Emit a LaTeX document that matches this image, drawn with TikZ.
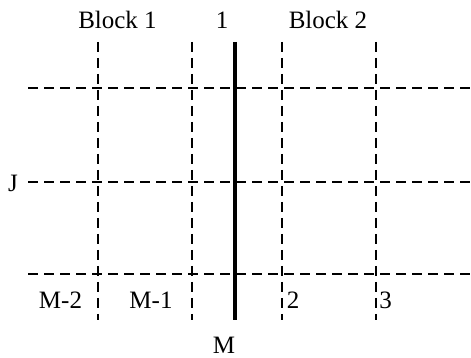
\documentclass[tikz,border=0pt]{standalone}
\usepackage{fontspec}
\setmainfont{Liberation Serif}
\begin{document}
\begin{tikzpicture}[x=1pt,y=1pt,
  lbl/.style={anchor=base,inner sep=0pt,font=\fontsize{25}{30}\selectfont},
  grid/.style={line width=2.4pt,dash pattern=on 10pt off 6pt},
  bound/.style={line width=3.4pt}]
\useasboundingbox (0,0) rectangle (471,358);
% horizontal dashed lines
\foreach \y/\n in {270/a,176/b,84/c}{
  \coordinate (h\n l) at (28,\y);
  \coordinate (h\n r) at (471,\y);
  \draw[grid] (h\n l) -- (h\n r);
}
% vertical dashed lines
\foreach \x/\n in {98/a,192/b,282/c,376/d}{
  \coordinate (v\n t) at (\x,316);
  \coordinate (v\n b) at (\x,38);
  \draw[grid] (v\n t) -- (v\n b);
}
% thick boundary
\coordinate (bt) at (235,316);
\coordinate (bb) at (235,38);
\draw[bound] (bt) -- (bb);
% labels
\node[lbl] (blk1) at (117.5,329) {Block 1};
\node[lbl] (one) at (222,329) {1};
\node[lbl] (blk2) at (328,329) {Block 2};
\node[lbl] (J) at (13,166) {J};
\node[lbl] (m2) at (60.5,49) {M-2};
\node[lbl] (m1) at (151,49) {M-1};
\node[lbl] (two) at (293,49) {2};
\node[lbl] (three) at (385.5,49) {3};
\node[lbl] (M) at (224,4.5) {M};
\end{tikzpicture}
\end{document}
